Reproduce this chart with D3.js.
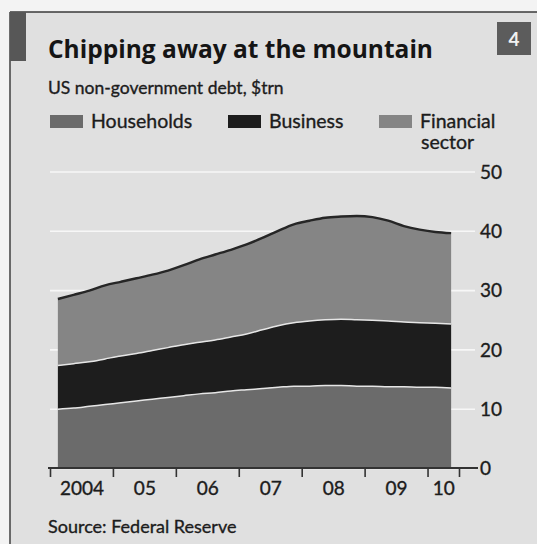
<!DOCTYPE html>
<html>
<head>
<meta charset="utf-8">
<script src="https://cdn.jsdelivr.net/npm/d3@7"></script>
<style>
  body { margin: 0; background: #f3f3f3; }
  svg { display: block; font-family: Lato, "Open Sans", sans-serif; }
  .txt { fill: #1c1c1c; stroke: #1c1c1c; stroke-width: 0.35px; }
</style>
</head>
<body>
<script>
// quarterly, 2004Q1 - 2010Q2
var quarters = ["2004Q1","2004Q2","2004Q3","2004Q4","2005Q1","2005Q2","2005Q3","2005Q4",
                "2006Q1","2006Q2","2006Q3","2006Q4","2007Q1","2007Q2","2007Q3","2007Q4",
                "2008Q1","2008Q2","2008Q3","2008Q4","2009Q1","2009Q2","2009Q3","2009Q4",
                "2010Q1","2010Q2"];
var households = [9.9,10.1,10.4,10.7,11.0,11.3,11.6,11.9,12.2,12.5,12.7,13.0,13.2,13.4,13.6,13.8,
                  13.8,13.9,13.9,13.8,13.8,13.7,13.7,13.6,13.6,13.5];
var business   = [7.4,7.5,7.5,7.7,7.9,8.0,8.2,8.4,8.6,8.7,8.9,9.1,9.4,9.9,10.4,10.7,
                  11.0,11.1,11.2,11.2,11.1,11.1,10.9,10.9,10.8,10.8];
var financial  = [11.2,11.6,12.0,12.4,12.5,12.7,12.8,13.0,13.4,14.0,14.4,14.7,15.1,15.5,16.0,16.6,
                  16.9,17.2,17.3,17.5,17.4,16.9,16.2,15.7,15.4,15.3];
var yTicks = [0, 10, 20, 30, 40, 50];
var yearTicks = [2004, 2005, 2006, 2007, 2008, 2009, 2010, 2010.5];
var yearLabels = ["2004", "05", "06", "07", "08", "09", "10"];
var seriesNames = ["Households", "Business", "Financial"];

var W = 537, H = 544;
var colors = {Households: "#6b6b6b", Business: "#1d1d1d", Financial: "#858585"};

var rows = quarters.map(function(q, i) {
  var yr = +q.slice(0, 4), qn = +q.slice(5);
  return {t: yr + (qn - 0.5) / 4, Households: households[i], Business: business[i], Financial: financial[i]};
});

var x = d3.scaleLinear().domain([2004, 2010.5]).range([50, 459]);
var y = d3.scaleLinear().domain([0, 50]).range([468, 171.5]);

var svg = d3.select("body").append("svg").attr("width", W).attr("height", H);

// panel
svg.append("rect").attr("x", 10).attr("y", 12).attr("width", W - 10).attr("height", H - 12).attr("fill", "#e0e0e0");
svg.append("line").attr("x1", 10).attr("x2", W).attr("y1", 12).attr("y2", 12).attr("stroke", "#3a3a3a").attr("stroke-width", 1.6);
svg.append("line").attr("x1", 10).attr("x2", 10).attr("y1", 12).attr("y2", H).attr("stroke", "#4a4a4a").attr("stroke-width", 1.6);
svg.append("rect").attr("x", 10).attr("y", 12).attr("width", 16).attr("height", 49).attr("fill", "#575757");
svg.append("rect").attr("x", 497).attr("y", 22).attr("width", 34).attr("height", 33).attr("fill", "#5c5c5c");
svg.append("text").attr("x", 514).attr("y", 46).attr("text-anchor", "middle")
   .attr("fill", "#f2f2f2").style("font-size", "19px").style("font-weight", "bold").text("4");

// titles
svg.append("text").attr("x", 48).attr("y", 58).style("font-size", "25px").style("font-weight", "bold")
   .style("font-family", "'Open Sans', sans-serif").attr("textLength", 385).attr("lengthAdjust", "spacingAndGlyphs")
   .attr("fill", "#151515").text("Chipping away at the mountain");
svg.append("text").attr("class", "txt").attr("x", 48).attr("y", 94).style("font-size", "17.5px")
   .text("US non-government debt, $trn");

// legend
var legX = [50, 228, 379];
seriesNames.forEach(function(s, i) {
  svg.append("rect").attr("x", legX[i]).attr("y", 115).attr("width", 33).attr("height", 13).attr("fill", colors[s]);
  svg.append("text").attr("class", "txt").attr("x", legX[i] + 41).attr("y", 128).style("font-size", "19.5px")
     .text(s);
});
svg.append("text").attr("class", "txt").attr("x", 421).attr("y", 149).style("font-size", "19.5px").text("sector");

// gridlines + y labels
var yAxis = svg.append("g").attr("transform", "translate(475,0)")
  .call(d3.axisRight(y).tickValues(yTicks).tickSize(-425).tickPadding(5));
yAxis.select(".domain").remove();
yAxis.selectAll("line").attr("stroke", "#f7f7f7").attr("stroke-width", 1.6);
yAxis.selectAll("text").attr("class", "txt").style("font-size", "19px").attr("dy", "0.36em")
  .style("font-family", "Lato, sans-serif");

// stacked areas
var stack = d3.stack().keys(seriesNames)(rows);
var area = d3.area().x(function(d) { return x(d.data.t); })
  .y0(function(d) { return y(d[0]); }).y1(function(d) { return y(d[1]); })
  .curve(d3.curveMonotoneX);
var line = d3.line().x(function(d) { return x(d.data.t); }).y(function(d) { return y(d[1]); })
  .curve(d3.curveMonotoneX);

svg.selectAll(".layer").data(stack).enter().append("path")
  .attr("class", "layer").attr("d", area).attr("fill", function(d) { return colors[d.key]; });

svg.selectAll(".sep").data(stack.slice(0, 2)).enter().append("path")
  .attr("class", "sep").attr("d", line).attr("fill", "none").attr("stroke", "#e6e6e6").attr("stroke-width", 1.5);
svg.append("path").datum(stack[2]).attr("d", line).attr("fill", "none")
  .attr("stroke", "#262626").attr("stroke-width", 2.4);

// x axis
svg.append("line").attr("x1", 48).attr("x2", 478).attr("y1", y(0)).attr("y2", y(0))
  .attr("stroke", "#333").attr("stroke-width", 2);
var xAxis = svg.append("g").attr("transform", "translate(0," + y(0) + ")")
  .call(d3.axisBottom(x).tickValues(yearTicks).tickSize(9).tickFormat(""));
xAxis.select(".domain").remove();
xAxis.selectAll("line").attr("stroke", "#333").attr("stroke-width", 1.6);

var labelPos = yearLabels.map(function(l, i) { return i < 6 ? 2004.5 + i : 2010.25; });
var xLab = svg.append("g").attr("transform", "translate(0," + y(0) + ")")
  .call(d3.axisBottom(x).tickValues(labelPos).tickSize(0).tickPadding(14)
    .tickFormat(function(d, i) { return yearLabels[i]; }));
xLab.select(".domain").remove();
xLab.selectAll("text").attr("class", "txt").style("font-size", "19px").style("font-family", "Lato, sans-serif");

svg.append("text").attr("class", "txt").attr("x", 48).attr("y", 533).style("font-size", "18px")
   .text("Source: Federal Reserve");
</script>
</body>
</html>
